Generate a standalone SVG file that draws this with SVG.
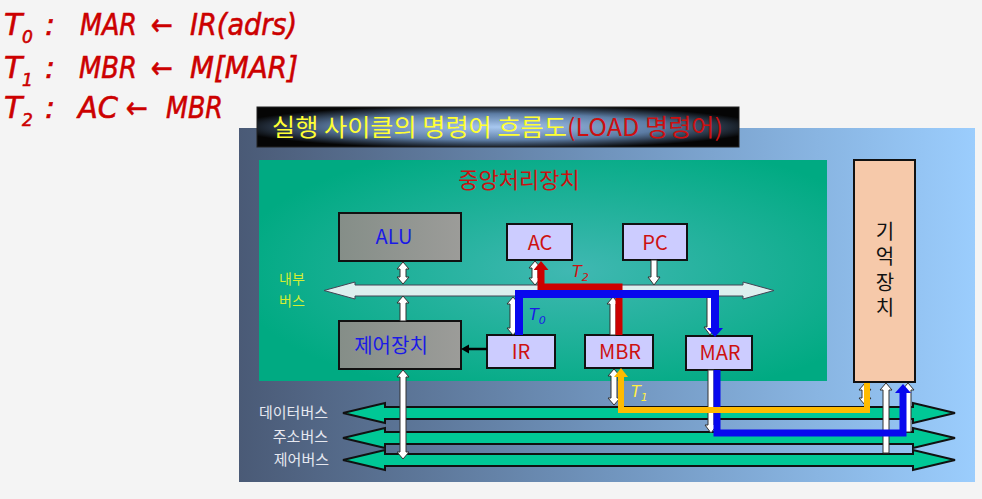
<svg xmlns="http://www.w3.org/2000/svg" width="982" height="499" viewBox="0 0 982 499">
<style>
.f{font-family:"DejaVu Sans","Noto Sans CJK KR",sans-serif;font-style:italic;fill:#cc0000;stroke:#cc0000;stroke-width:0.6px;font-size:30px}
.fs{font-size:17px}
.k{font-family:"Noto Sans CJK KR","Noto Sans",sans-serif}
.box{stroke:#111;stroke-width:2}
.reg{fill:#ccccff}
.rt{fill:#cc1111;font-size:20px;text-anchor:middle}
.bt{fill:#1a1ae6;font-size:20px;text-anchor:middle}
.wa{fill:#fff;stroke:#333;stroke-width:1}
.bus{fill:#00c896;stroke:#111;stroke-width:2}
.bl{fill:#e6e8f0;font-size:15px;text-anchor:end}
.tl{font-family:"DejaVu Sans",sans-serif;font-style:italic;font-size:16px}
</style>
<defs>
<linearGradient id="gPanel" x1="0" y1="0" x2="1" y2="0">
<stop offset="0" stop-color="#4a5a76"/>
<stop offset="0.5" stop-color="#7094bd"/>
<stop offset="1" stop-color="#9bcdfd"/>
</linearGradient>
<radialGradient id="gCpu" cx="0.55" cy="0.5" r="0.6">
<stop offset="0" stop-color="#40b8b2"/>
<stop offset="1" stop-color="#00aa82"/>
</radialGradient>
<radialGradient id="gTitle" cx="0.5" cy="0.5" r="0.55">
<stop offset="0" stop-color="#a8c8f0"/>
<stop offset="0.6" stop-color="#5c7ca4"/>
<stop offset="1" stop-color="#050505"/>
</radialGradient>
<linearGradient id="gGray" x1="0" y1="0" x2="1" y2="0">
<stop offset="0" stop-color="#858e88"/>
<stop offset="1" stop-color="#9c9c99"/>
</linearGradient>
<marker id="mRed" viewBox="0 0 10 10" refX="0" refY="5" markerWidth="9" markerHeight="15" markerUnits="userSpaceOnUse" orient="auto" preserveAspectRatio="none"><path d="M0,0 L10,5 L0,10 z" fill="#cc0000"/></marker>
<marker id="mBlue" viewBox="0 0 10 10" refX="0" refY="5" markerWidth="9" markerHeight="16" markerUnits="userSpaceOnUse" orient="auto" preserveAspectRatio="none"><path d="M0,0 L10,5 L0,10 z" fill="#0808ee"/></marker>
<marker id="mYel" viewBox="0 0 10 10" refX="0" refY="5" markerWidth="9" markerHeight="14" markerUnits="userSpaceOnUse" orient="auto" preserveAspectRatio="none"><path d="M0,0 L10,5 L0,10 z" fill="#ffbb00"/></marker>
</defs>
<rect width="982" height="499" fill="#f4f4f4"/>

<g id="formulas">
<text class="f" x="4" y="35">T</text><text class="f fs" x="22" y="43">0</text><text class="f" x="45" y="35">:</text>
<text class="f" x="80" y="35" textLength="57" lengthAdjust="spacingAndGlyphs">MAR</text>
<text class="f" x="151" y="35" textLength="22" lengthAdjust="spacingAndGlyphs">←</text>
<text class="f" x="190" y="35" textLength="107" lengthAdjust="spacingAndGlyphs">IR(adrs)</text>
<text class="f" x="4" y="78">T</text><text class="f fs" x="22" y="86">1</text><text class="f" x="45" y="78">:</text>
<text class="f" x="79" y="78" textLength="58" lengthAdjust="spacingAndGlyphs">MBR</text>
<text class="f" x="151" y="78" textLength="22" lengthAdjust="spacingAndGlyphs">←</text>
<text class="f" x="190" y="78" textLength="108" lengthAdjust="spacingAndGlyphs">M[MAR]</text>
<text class="f" x="4" y="118">T</text><text class="f fs" x="22" y="126">2</text><text class="f" x="45" y="118">:</text>
<text class="f" x="78" y="118" textLength="40" lengthAdjust="spacingAndGlyphs">AC</text>
<text class="f" x="126" y="118" textLength="22" lengthAdjust="spacingAndGlyphs">←</text>
<text class="f" x="166" y="118" textLength="57" lengthAdjust="spacingAndGlyphs">MBR</text>
</g>

<rect id="panel" x="239" y="128" width="736" height="354" fill="url(#gPanel)"/>

<g id="title">
<rect x="257" y="107" width="482" height="40" fill="url(#gTitle)" stroke="#222" stroke-width="1"/>
<text class="k" x="272" y="136" font-size="24" textLength="451" lengthAdjust="spacingAndGlyphs"><tspan fill="#ffff33">실행 사이클의 명령어 흐름도</tspan><tspan fill="#cc1010">(LOAD 명령어)</tspan></text>
</g>

<g id="cpu">
<rect x="259" y="160" width="568" height="221" fill="url(#gCpu)"/>
<text class="k" x="519" y="188" font-size="22" fill="#cc1111" text-anchor="middle">중앙처리장치</text>
<text class="k" x="292" y="284" font-size="14" fill="#d4ee33" text-anchor="middle">내부</text>
<text class="k" x="292" y="306" font-size="14" fill="#d4ee33" text-anchor="middle">버스</text>
</g>

<g id="memory">
<rect class="box" x="854" y="160" width="61" height="222" fill="#f6c9aa" stroke-width="1.5"/>
<text class="k" x="885" y="221" font-size="20" fill="#111" writing-mode="vertical-rl" letter-spacing="5.5">기억장치</text>
</g>

<g id="alu">
<rect class="box" x="339" y="213" width="122" height="48" fill="url(#gGray)"/>
<text class="k bt" x="394" y="244">ALU</text>
</g>
<g id="control">
<rect class="box" x="339" y="321" width="122" height="48" fill="url(#gGray)"/>
<text class="k bt" x="391" y="353">제어장치</text>
</g>
<g id="ac">
<rect class="box reg" x="507" y="224" width="65" height="36"/>
<text class="k rt" x="540" y="250">AC</text>
</g>
<g id="pc">
<rect class="box reg" x="623" y="224" width="64" height="36"/>
<text class="k rt" x="655" y="250">PC</text>
</g>
<g id="ir">
<rect class="box reg" x="487" y="335" width="68" height="33"/>
<text class="k rt" x="521" y="359">IR</text>
</g>
<g id="mbr">
<rect class="box reg" x="585" y="335" width="68" height="33"/>
<text class="k rt" x="620" y="359">MBR</text>
</g>
<g id="mar">
<rect class="box reg" x="686" y="336" width="66" height="34"/>
<text class="k rt" x="720" y="360">MAR</text>
</g>

<g id="connectors">
<polygon points="324,290.5 355,282 355,285 743,285 743,282 774,290.5 743,299 743,296 355,296 355,299" fill="#dcefee" stroke="#445" stroke-width="1"/>
<polygon class="bus" points="343,413 385,403 385,407 913,407 913,403 955,413 913,423 913,419 385,419 385,423"/>
<polygon class="bus" points="343,438 385,428 385,432 913,432 913,428 955,438 913,448 913,444 385,444 385,448"/>
<polygon class="bus" points="343,460 385,450 385,454 913,454 913,450 955,460 913,470 913,466 385,466 385,470"/>

<polygon class="wa" points="403,262 409,269 406,269 406,277 409,277 403,284 397,277 400,277 400,269 397,269"/>
<polygon class="wa" points="403,296 409,303 406,303 406,321 400,321 400,303 397,303"/>
<polygon class="wa" points="403,370 409,377 406,377 406,452 409,452 403,459 397,452 400,452 400,377 397,377"/>
<polygon class="wa" points="535,261 541,268 538,268 538,278 541,278 535,285 529,278 532,278 532,268 529,268"/>
<polygon class="wa" points="651,260 657,260 657,277 660,277 654,285 648,277 651,277"/>
<polygon class="wa" points="513,297 519,304 516,304 516,328 519,328 513,335 507,328 510,328 510,304 507,304"/>
<polygon class="wa" points="613,297 619,304 616,304 616,335 610,335 610,304 607,304"/>
<polygon class="wa" points="707,297 713,297 713,327 716,327 710,335 704,327 707,327"/>
<polygon class="wa" points="614,369 620,376 617,376 617,398 620,398 614,405 608,398 611,398 611,376 608,376"/>
<polygon class="wa" points="708,370 714,370 714,425 717,425 711,433 705,425 708,425"/>
<polygon class="wa" points="865,383 871,390 868,390 868,398 871,398 865,405 859,398 862,398 862,390 859,390"/>
<polygon class="wa" points="886,383 892,390 889,390 889,453 883,453 883,390 880,390"/>
<polygon class="wa" points="908,383 914,390 911,390 911,432 905,432 905,390 902,390"/>

<line x1="487" y1="349" x2="468" y2="349" stroke="#000" stroke-width="2.5"/>
<polygon points="461,349 469,344.5 469,353.5" fill="#000"/>

<path d="M619,335 V287 H541 V270" fill="none" stroke="#cc0000" stroke-width="7" marker-end="url(#mRed)"/>
<path d="M519,335 V294 H715 V328" fill="none" stroke="#0808ee" stroke-width="8" marker-end="url(#mBlue)"/>
<path d="M717,370 V433 H903 V393" fill="none" stroke="#0808ee" stroke-width="7" marker-end="url(#mBlue)"/>
<path d="M867,383 V410 H621 V377" fill="none" stroke="#ffbb00" stroke-width="6" marker-end="url(#mYel)"/>

<text class="tl" x="572" y="277" fill="#cc1111">T<tspan font-size="11" dy="4">2</tspan></text>
<text class="tl" x="529" y="320" fill="#1a1ae6">T<tspan font-size="11" dy="4">0</tspan></text>
<text class="tl" x="631" y="397" fill="#ffee44">T<tspan font-size="11" dy="4">1</tspan></text>
</g>

<g id="buslabels" class="k">
<text class="bl" x="328" y="418">데이터버스</text>
<text class="bl" x="328" y="442">주소버스</text>
<text class="bl" x="329" y="465">제어버스</text>
</g>
</svg>
